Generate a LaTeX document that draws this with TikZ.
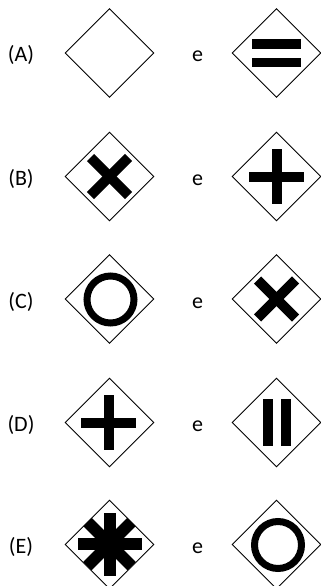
\documentclass[tikz,border=0pt]{standalone}
\usepackage{fontspec}
\setmainfont{Carlito}
\usetikzlibrary{shapes.geometric}
\begin{document}
\begin{tikzpicture}[x=1pt,y=-1pt,
  gate/.style={draw=black,line width=0.9pt,shape=diamond,minimum width=89pt,minimum height=89pt,inner sep=0pt,fill=white},
  lbl/.style={font=\fontsize{22}{26}\selectfont,anchor=base,inner sep=0pt},
  bar/.style={line width=10pt,line cap=butt,draw=black},
  ring/.style={line width=7pt,draw=black}]
\useasboundingbox (0,0) rectangle (321,586);
% rows
\foreach \r/\y/\L in {A/53/(A),B/176.5/(B),C/299/(C),D/422.5/(D),E/544.5/(E)}{
  \node[lbl] (l\r) at (21,\y+9) {\L};
  \node[lbl] (e\r) at (197.5,\y+9) {e};
  \node[gate] (g\r1) at (109.5,\y) {};
  \node[gate] (g\r2) at (276.5,\y) {};
}
% A right: equal sign
\fill ([shift={(-24.5,-13.5)}]gA2.center) rectangle ([shift={(24.5,-3.5)}]gA2.center);
\fill ([shift={(-24.5,5)}]gA2.center) rectangle ([shift={(24.5,14.5)}]gA2.center);
% B left: X
\draw[bar] ([shift={(-19,-19)}]gB1.center) -- ([shift={(19,19)}]gB1.center);
\draw[bar] ([shift={(-19,19)}]gB1.center) -- ([shift={(19,-19)}]gB1.center);
% B right: plus
\draw[bar] ([shift={(0,-27.5)}]gB2.center) -- ([shift={(0,27.5)}]gB2.center);
\draw[bar] ([shift={(-27.5,0)}]gB2.center) -- ([shift={(27.5,0)}]gB2.center);
% C left: circle
\draw[ring] ([shift={(1,0.5)}]gC1.center) circle[radius=23.5];
% C right: X
\draw[bar] ([shift={(-19,-19)}]gC2.center) -- ([shift={(19,19)}]gC2.center);
\draw[bar] ([shift={(-19,19)}]gC2.center) -- ([shift={(19,-19)}]gC2.center);
% D left: plus
\draw[bar] ([shift={(-1,-27.5)}]gD1.center) -- ([shift={(-1,27.5)}]gD1.center);
\draw[bar] ([shift={(-28.5,0)}]gD1.center) -- ([shift={(26.5,0)}]gD1.center);
% D right: pause bars
\fill ([shift={(-13.5,-23.5)}]gD2.center) rectangle ([shift={(-4,23.5)}]gD2.center);
\fill ([shift={(4.5,-23.5)}]gD2.center) rectangle ([shift={(14,23.5)}]gD2.center);
% E left: asterisk
\begin{scope}[shift={(gE1.center)}]
  \draw[line width=12pt,line cap=butt] (0,-31.5) -- (0,31);
  \draw[line width=12pt,line cap=butt] (-31.5,-1) -- (32,-1);
  \draw[line width=12pt,line cap=butt] (-22,-22.5) -- (22,21.5);
  \draw[line width=12pt,line cap=butt] (-22,21.5) -- (22,-22.5);
\end{scope}
% E right: circle
\draw[ring] ([shift={(1.5,0.5)}]gE2.center) circle[radius=23.5];
\end{tikzpicture}
\end{document}
